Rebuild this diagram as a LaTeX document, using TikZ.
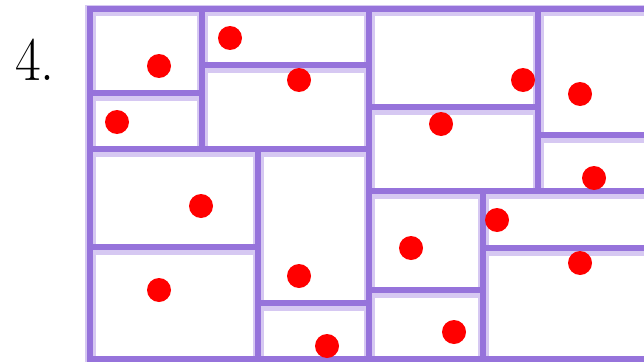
\documentclass[tikz,border=0pt]{standalone}
\usetikzlibrary{calc}
\begin{document}
\begin{tikzpicture}[x=1pt,y=-1pt]
\definecolor{lineDark}{HTML}{9673DB}
\definecolor{lineLight}{HTML}{D6C8F2}
\definecolor{dotRed}{HTML}{FF0000}
\tikzset{
  lightband/.style={draw=lineLight, line width=11pt, line cap=rect},
  darkcore/.style={draw=lineDark, line width=5.5pt, line cap=rect},
  dot/.style={fill=dotRed},
  numlabel/.style={anchor=base west, inner sep=0pt, font=\fontsize{62}{64}\selectfont}
}
\useasboundingbox (0,0) rectangle (644,361);
\fill[white] (0,0) rectangle (644,361);
\node[numlabel] (num) at (15,80) {\scalebox{0.9}[1]{4.}};
\def\segs{90/9/660/9, 90/9/90/370, 90/359/660/359,
  202/9/202/149, 90/93/202/93, 202/65/369/65, 90/149/369/149,
  369/9/369/359, 369/107/538/107, 538/9/538/191, 538/135/660/135,
  369/191/660/191, 258/149/258/359, 90/247/258/247, 258/303/369/303,
  483/191/483/359, 369/290/483/290, 483/248/660/248}
\foreach \xa/\ya/\xb/\yb in \segs {
  \draw[lightband] ($(\xa,\ya)+(0,2)$) -- ($(\xb,\yb)+(0,2)$);
}
\foreach \xa/\ya/\xb/\yb in \segs {
  \draw[darkcore] (\xa,\ya) -- (\xb,\yb);
}
\foreach \px/\py in {159/66, 117/122, 230/38, 299/80, 523/80, 441/124,
  580/94, 594/178, 201/206, 159/290, 299/276, 327/346, 411/248,
  497/220, 580/263, 454/332} {
  \fill[dot] (\px,\py) circle (12);
}
\end{tikzpicture}
\end{document}
